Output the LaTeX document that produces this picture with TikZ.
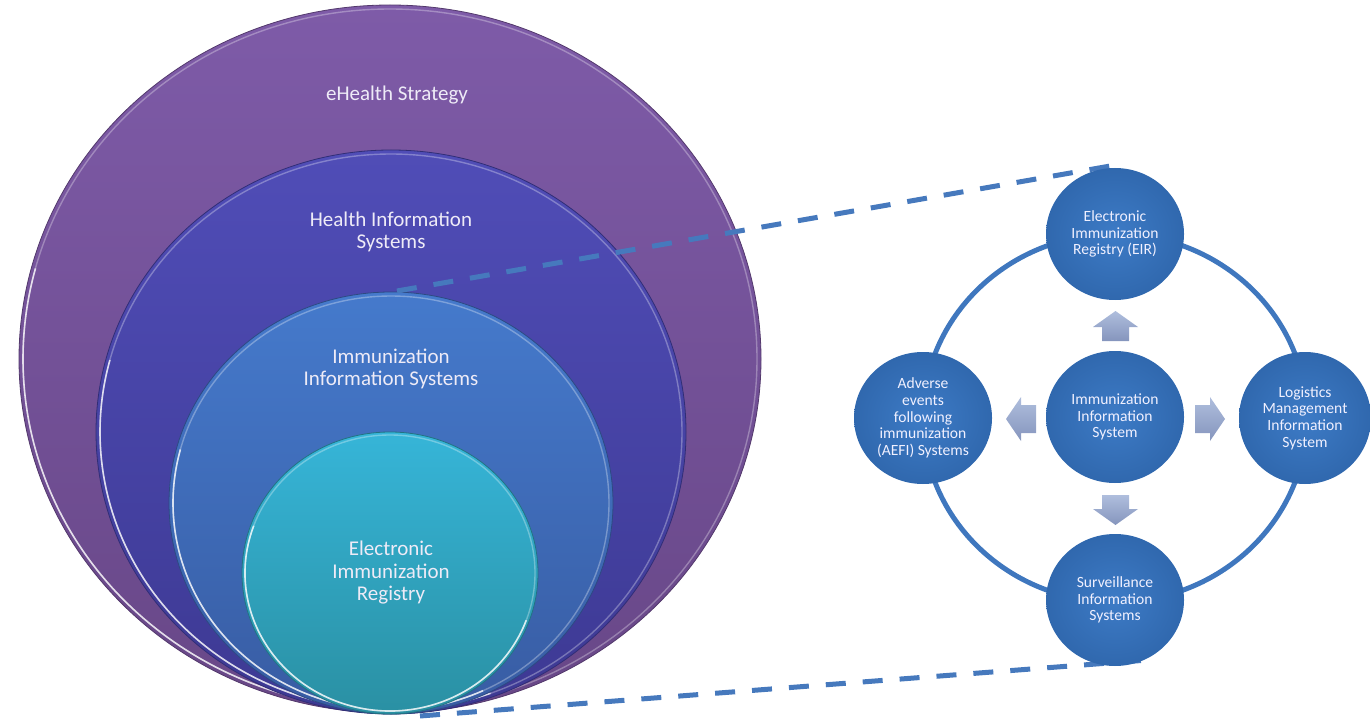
\documentclass[tikz,border=0pt]{standalone}
\usepackage{fontspec}
\setmainfont{Carlito}
\usetikzlibrary{shapes.geometric}
\definecolor{strategyTop}{HTML}{7E5BA8}
\definecolor{strategyBot}{HTML}{684787}
\definecolor{hisTop}{HTML}{504DB7}
\definecolor{hisBot}{HTML}{3D3993}
\definecolor{iisTop}{HTML}{457ACC}
\definecolor{iisBot}{HTML}{385CA3}
\definecolor{eirTop}{HTML}{36B5D8}
\definecolor{eirBot}{HTML}{2A90A3}
\definecolor{bubIn}{HTML}{3D7BC6}
\definecolor{bubOut}{HTML}{3068AE}
\definecolor{ringBlue}{HTML}{3F77BE}
\definecolor{dashBlue}{HTML}{4679BD}
\definecolor{arrTop}{HTML}{AFBEDD}
\definecolor{arrBot}{HTML}{8595BD}
\definecolor{lblText}{HTML}{EEEBF7}
\begin{document}
\begin{tikzpicture}[x=1pt,y=-1pt,
  lbl/.style={text=lblText, align=center, font=\fontsize{21}{22.5}\selectfont},
  bub/.style={ellipse, minimum width=138, minimum height=132, inner sep=0,
    inner color=bubIn, outer color=bubOut, text=white!94!blue, align=center,
    font=\fontsize{15.6}{16.7}\selectfont},
  rim/.style={white, line width=1.6, opacity=0.75},
  softrim/.style={white, line width=1.4, opacity=0.3},
  zoomline/.style={dashBlue, line width=5, dash pattern=on 20 off 17},
  blockarrow/.style={top color=arrTop, bottom color=arrBot}]
\useasboundingbox (0,0) rectangle (1370,719);

% nested strategy circles, all resting on one bottom point
\shade[top color=strategyTop, bottom color=strategyBot, draw=strategyBot!80!black, line width=0.8]
  (390,359) ellipse [x radius=371, y radius=354];
\draw[softrim] (390,359) ellipse [x radius=367, y radius=350];
\draw[rim] ([shift={(75:367 and 350)}]390,359) arc[start angle=75, end angle=195, x radius=367, y radius=350];
\shade[top color=hisTop, bottom color=hisBot, draw=hisBot!80!black, line width=0.8]
  (391,432) ellipse [x radius=295, y radius=282];
\draw[softrim] (391,432) ellipse [x radius=291, y radius=278];
\draw[rim] ([shift={(70:291 and 278)}]391,432) arc[start angle=70, end angle=195, x radius=291, y radius=278];
\shade[top color=iisTop, bottom color=iisBot, draw=iisBot!80!black, line width=0.8]
  (391,503) ellipse [x radius=222, y radius=211];
\draw[softrim] (391,503) ellipse [x radius=218, y radius=207];
\draw[rim] ([shift={(65:218 and 207)}]391,503) arc[start angle=65, end angle=195, x radius=218, y radius=207];
\shade[top color=eirTop, bottom color=eirBot, draw=eirBot!80!black, line width=0.8]
  (390,573) ellipse [x radius=148, y radius=141];
\draw[softrim] (390,573) ellipse [x radius=145, y radius=138];
\draw[rim] ([shift={(20:145 and 138)}]390,573) arc[start angle=20, end angle=200, x radius=145, y radius=138];

\node[lbl] (strategy) at (397,95) {eHealth Strategy};
\node[lbl] (his) at (391,232) {Health Information\\Systems};
\node[lbl] (iis) at (391,369) {Immunization\\Information Systems};
\node[lbl] (eirL) at (391,573) {Electronic\\Immunization\\Registry};

% zoom lines from the inner circle to the detail view (behind the bubbles)
\coordinate (zoomTopL) at (397,291);
\coordinate (zoomTopR) at (1116,165);
\coordinate (zoomBotL) at (420,716);
\coordinate (zoomBotR) at (1148,660);
\draw[zoomline] (zoomTopL) -- (zoomTopR);
\draw[zoomline] (zoomBotL) -- (zoomBotR);

% ring linking the systems
\draw[ringBlue, line width=5] (1115,418) ellipse [x radius=192, y radius=184];

% block arrows radiating from the hub
\shade[blockarrow] (1102,341) -- (1102,327) -- (1093,327) -- (1115.5,311) -- (1138,327) -- (1129,327) -- (1129,341) -- cycle;
\shade[blockarrow] (1102,495) -- (1102,509) -- (1093,509) -- (1115.5,525) -- (1138,509) -- (1129,509) -- (1129,495) -- cycle;
\shade[blockarrow] (1036,405) -- (1021,405) -- (1021,397) -- (1006,419) -- (1021,441) -- (1021,433) -- (1036,433) -- cycle;
\shade[blockarrow] (1195,405) -- (1210,405) -- (1210,397) -- (1225,419) -- (1210,441) -- (1210,433) -- (1195,433) -- cycle;

\node[bub] (eirR) at (1115,234) {Electronic\\Immunization\\Registry (EIR)};
\node[bub] (hub) at (1115,417) {Immunization\\Information\\System};
\node[bub] (aefi) at (923,418) {Adverse\\events\\following\\immunization\\(AEFI) Systems};
\node[bub, minimum width=132] (lmis) at (1305,418) {Logistics\\Management\\Information\\System};
\node[bub] (surv) at (1115,600) {Surveillance\\Information\\Systems};
\end{tikzpicture}
\end{document}
